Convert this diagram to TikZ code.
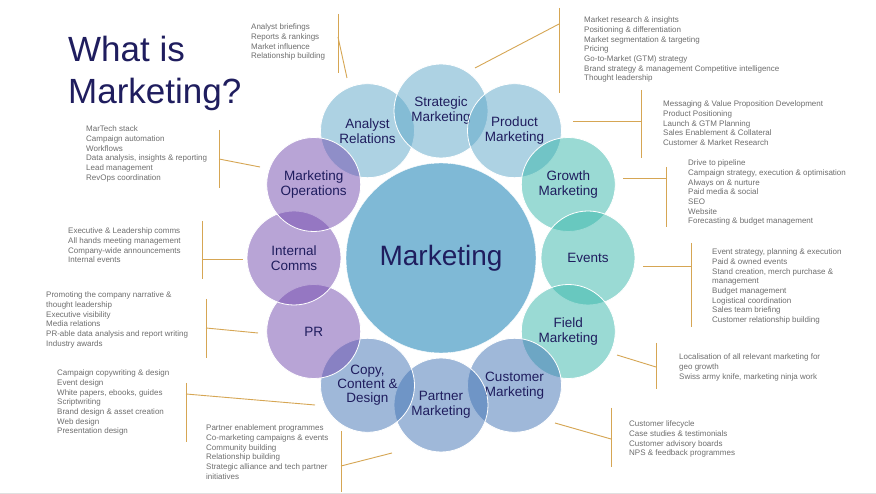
\documentclass[tikz,border=0pt]{standalone}
\usepackage{fontspec}
\setmainfont{Liberation Sans}

\definecolor{navy}{RGB}{31,29,94}
\definecolor{listgray}{RGB}{110,110,110}
\definecolor{gold}{RGB}{214,166,84}
\definecolor{coreC}{RGB}{127,185,214}
\definecolor{skyC}{RGB}{93,167,201}
\definecolor{tealC}{RGB}{55,183,171}
\definecolor{lilacC}{RGB}{115,75,175}
\definecolor{steelC}{RGB}{65,115,181}

\begin{document}
\begin{tikzpicture}[x=1pt,y=-1pt,
	bubble/.style={circle,draw=white,line width=0.8pt,minimum size=94pt,inner sep=0pt,
		fill opacity=0.5,text opacity=1,text=navy,align=center,font=\fontsize{13.5}{15}\selectfont},
	items/.style={anchor=north west,align=left,inner sep=0pt,text=listgray,font=\fontsize{8}{9.7}\selectfont},
	brace/.style={draw=gold,line width=0.9pt}]
	\useasboundingbox[fill=white] (0,0) rectangle (876,494);
	\draw[black!12] (0,493) -- (876,493);

	\node[anchor=north west,inner sep=0pt,text=navy,align=left,font=\fontsize{35}{42}\selectfont] (title) at (68,35.5) {What is\\Marketing?};

	\node[circle,draw=white,fill=coreC,minimum size=190pt,inner sep=0pt,text=navy,font=\fontsize{28}{30}\selectfont] (M) at (441,258) {Marketing};

	\node[bubble,fill=skyC] (AR) at (367.5,130.7) {Analyst\\Relations};
	\node[bubble,fill=skyC] (SM) at (441,111) {Strategic\\Marketing};
	\node[bubble,fill=skyC] (PM) at (514.5,130.7) {Product\\Marketing};
	\node[bubble,fill=tealC] (GM) at (568.3,184.5) {Growth\\Marketing};
	\node[bubble,fill=tealC] (EV) at (588,258) {Events};
	\node[bubble,fill=tealC] (FM) at (568.3,331.5) {Field\\Marketing};
	\node[bubble,fill=steelC] (CM) at (514.5,385.3) {Customer\\Marketing};
	\node[bubble,fill=steelC] (PaM) at (441,405) {Partner\\Marketing};
	\node[bubble,fill=steelC,font=\fontsize{13.5}{14}\selectfont] (CCD) at (367.5,385.3) {Copy,\\Content \&\\Design};
	\node[bubble,fill=lilacC] (PR) at (313.7,331.5) {PR};
	\node[bubble,fill=lilacC] (IC) at (294,258) {Internal\\Comms};
	\node[bubble,fill=lilacC] (MO) at (313.7,184.5) {Marketing\\Operations};

	% lists
	\node[items] (ARl) at (251,23.7) {Analyst briefings\\Reports \& rankings\\Market influence\\Relationship building};
	\node[items] (SMl) at (584,16.7) {Market research \& insights\\Positioning \& differentiation\\Market segmentation \& targeting\\Pricing\\Go-to-Market (GTM) strategy\\Brand strategy \& management Competitive intelligence\\Thought leadership};
	\node[items] (PMl) at (663,100.7) {Messaging \& Value Proposition Development\\Product Positioning\\Launch \& GTM Planning\\Sales Enablement \& Collateral\\Customer \& Market Research};
	\node[items] (GMl) at (688,159.7) {Drive to pipeline\\Campaign strategy, execution \& optimisation\\Always on \& nurture\\Paid media \& social\\SEO\\Website\\Forecasting \& budget management};
	\node[items] (EVl) at (712,248.7) {Event strategy, planning \& execution\\Paid \& owned events\\Stand creation, merch purchase \&\\management\\Budget management\\Logistical coordination\\Sales team briefing\\Customer relationship building};
	\node[items] (FMl) at (679,353.7) {Localisation of all relevant marketing for\\geo growth\\Swiss army knife, marketing ninja work};
	\node[items] (CMl) at (629,420.7) {Customer lifecycle\\Case studies \& testimonials\\Customer advisory boards\\NPS \& feedback programmes};
	\node[items] (PaMl) at (206,424.7) {Partner enablement programmes\\Co-marketing campaigns \& events\\Community building\\Relationship building\\Strategic alliance and tech partner\\initiatives};
	\node[items] (CCDl) at (57,369.7) {Campaign copywriting \& design\\Event design\\White papers, ebooks, guides\\Scriptwriting\\Brand design \& asset creation\\Web design\\Presentation design};
	\node[items] (PRl) at (46,291.7) {Promoting the company narrative \&\\thought leadership\\Executive visibility\\Media relations\\PR-able data analysis and report writing\\Industry awards};
	\node[items] (ICl) at (68,227.7) {Executive \& Leadership comms\\All hands meeting management\\Company-wide announcements\\Internal events};
	\node[items] (MOl) at (86,125.7) {MarTech stack\\Campaign automation\\Workflows\\Data analysis, insights \& reporting\\Lead management\\RevOps coordination};

	% brackets and leaders
	\coordinate (ARa) at (338,14);  \coordinate (ARb) at (338,73);
	\coordinate (ARj) at (338,37);  \coordinate (ARe) at (347,78);
	\coordinate (SMa) at (559,8);   \coordinate (SMb) at (559,93);
	\coordinate (SMj) at (559,24);  \coordinate (SMe) at (475,68);
	\coordinate (PMa) at (641,90);  \coordinate (PMb) at (641,158);
	\coordinate (PMj) at (641,121); \coordinate (PMe) at (573,121);
	\coordinate (GMa) at (666,167); \coordinate (GMb) at (666,227);
	\coordinate (GMj) at (666,178); \coordinate (GMe) at (623,178);
	\coordinate (EVa) at (691,243); \coordinate (EVb) at (691,327);
	\coordinate (EVj) at (691,266); \coordinate (EVe) at (643,266);
	\coordinate (FMa) at (656,343); \coordinate (FMb) at (656,389);
	\coordinate (FMj) at (656,367); \coordinate (FMe) at (617,355);
	\coordinate (CMa) at (611,408); \coordinate (CMb) at (611,467);
	\coordinate (CMj) at (611,439); \coordinate (CMe) at (555,423);
	\coordinate (PaMa) at (341,431); \coordinate (PaMb) at (341,492);
	\coordinate (PaMj) at (341,466); \coordinate (PaMe) at (392,453);
	\coordinate (CCDa) at (186,383); \coordinate (CCDb) at (186,442);
	\coordinate (CCDj) at (186,394); \coordinate (CCDe) at (315,405);
	\coordinate (PRa) at (206,299); \coordinate (PRb) at (206,358);
	\coordinate (PRj) at (206,328); \coordinate (PRe) at (258,333);
	\coordinate (ICa) at (202,221); \coordinate (ICb) at (202,279);
	\coordinate (ICj) at (202,259); \coordinate (ICe) at (243,259);
	\coordinate (MOa) at (219,130); \coordinate (MOb) at (219,188);
	\coordinate (MOj) at (219,159); \coordinate (MOe) at (260,167);

	\draw[brace] (ARa) -- (ARb);   \draw[brace] (ARj) -- (ARe);
	\draw[brace] (SMa) -- (SMb);   \draw[brace] (SMj) -- (SMe);
	\draw[brace] (PMa) -- (PMb);   \draw[brace] (PMj) -- (PMe);
	\draw[brace] (GMa) -- (GMb);   \draw[brace] (GMj) -- (GMe);
	\draw[brace] (EVa) -- (EVb);   \draw[brace] (EVj) -- (EVe);
	\draw[brace] (FMa) -- (FMb);   \draw[brace] (FMj) -- (FMe);
	\draw[brace] (CMa) -- (CMb);   \draw[brace] (CMj) -- (CMe);
	\draw[brace] (PaMa) -- (PaMb); \draw[brace] (PaMj) -- (PaMe);
	\draw[brace] (CCDa) -- (CCDb); \draw[brace] (CCDj) -- (CCDe);
	\draw[brace] (PRa) -- (PRb);   \draw[brace] (PRj) -- (PRe);
	\draw[brace] (ICa) -- (ICb);   \draw[brace] (ICj) -- (ICe);
	\draw[brace] (MOa) -- (MOb);   \draw[brace] (MOj) -- (MOe);
\end{tikzpicture}
\end{document}
